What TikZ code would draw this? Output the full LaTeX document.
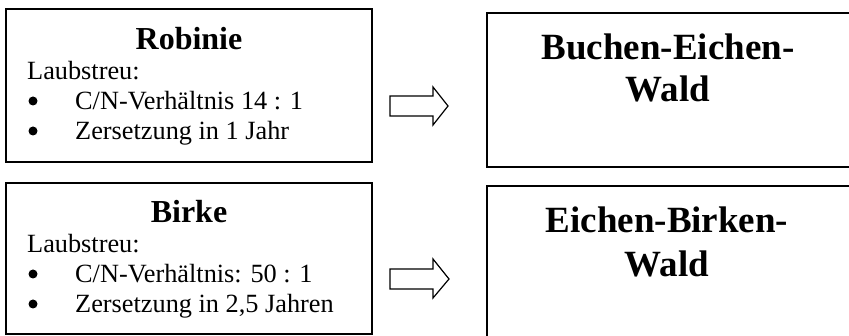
\documentclass[tikz,border=0pt]{standalone}
\usepackage{fontspec}
\setmainfont{Liberation Serif}
\begin{document}
\begin{tikzpicture}[x=1pt,y=-1pt,
  box/.style={draw, line width=1.5pt, inner sep=0pt, outer sep=0pt, anchor=north west},
  ttl/.style={font=\fontsize{32}{38}\selectfont\bfseries, anchor=base, inner sep=0pt},
  txt/.style={font=\fontsize{26.3}{30}\selectfont, anchor=base west, inner sep=0pt},
  bul/.style={circle, fill=black, inner sep=0pt, minimum size=9pt},
  big/.style={font=\fontsize{37}{43}\selectfont\bfseries, anchor=base, inner sep=0pt},
  blockarrow/.style={draw, line width=1.2pt, fill=white, line join=miter}]
\useasboundingbox (0,0) rectangle (849,336);
\clip (0,0) rectangle (849,336);

% left boxes
\node[box, minimum width=366pt, minimum height=153pt] (rob) at (6,9) {};
\node[box, minimum width=366pt, minimum height=151pt] (bir) at (6,183) {};
% right boxes (run past the right and bottom edges)
\node[box, minimum width=380pt, minimum height=154pt] (bew) at (487,13) {};
\node[box, minimum width=380pt, minimum height=170pt] (ebw) at (487,186) {};

% texts of top-left box
\node[ttl] (robt) at (189,50) {Robinie};
\node[txt] (robl) at (27,80) {Laubstreu:};
\node[bul] (robb1) at (33,101) {};
\node[txt] (robi1) at (75,110) {C/N-Verhältnis 14 : 1};
\node[bul] (robb2) at (33,131) {};
\node[txt] (robi2) at (75,140) {Zersetzung in 1 Jahr};

% texts of bottom-left box
\node[ttl] (birt) at (189,223) {Birke};
\node[txt] (birl) at (27,253) {Laubstreu:};
\node[bul] (birb1) at (33,274) {};
\node[txt] (biri1) at (75,283) {C/N-Verhältnis: 50 : 1};
\node[bul] (birb2) at (33,304) {};
\node[txt] (biri2) at (75,313) {Zersetzung in 2,5 Jahren};

% texts of right boxes
\node[big] (bew1) at (668,60) {Buchen-Eichen-};
\node[big] (bew2) at (668,102) {Wald};
\node[big] (ebw1) at (667,233) {Eichen-Birken-};
\node[big] (ebw2) at (667,277) {Wald};

% block arrows
\coordinate (a1) at (390,86);
\draw[blockarrow] ([yshift=-10pt]a1) -- ++(43,0) -- ++(0,-9) -- ++(15,19) -- ++(-15,19) -- ++(0,-9) -- ++(-43,0) -- cycle;
\coordinate (a2) at (390,259);
\draw[blockarrow] ([yshift=-10pt]a2) -- ++(43,0) -- ++(0,-10) -- ++(16,20) -- ++(-16,19) -- ++(0,-9) -- ++(-43,0) -- cycle;
\end{tikzpicture}
\end{document}
